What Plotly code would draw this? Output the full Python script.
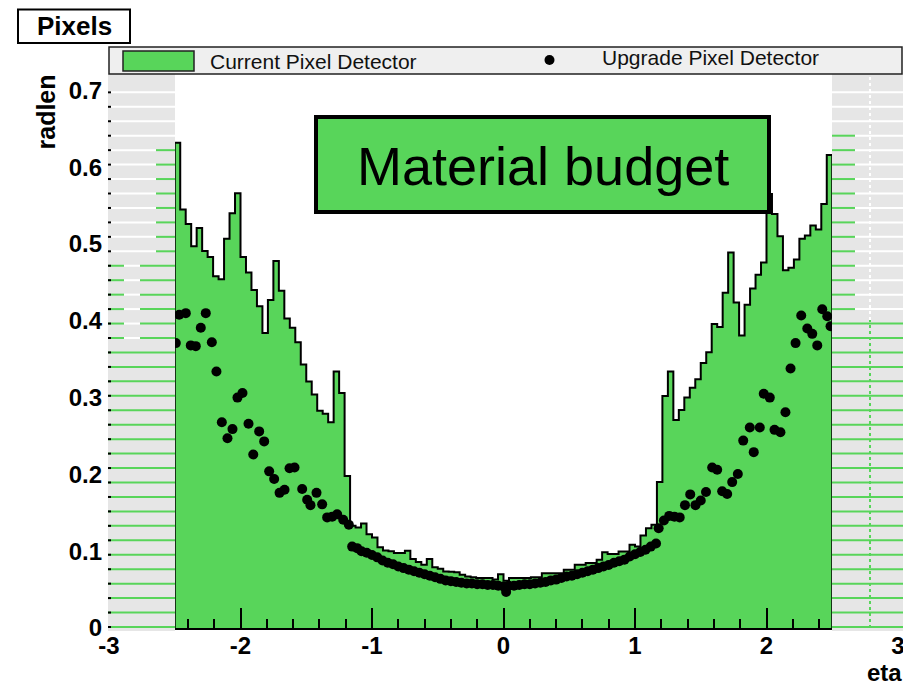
import numpy as np
import plotly.graph_objects as go

# ---------------- data ----------------
eta_min, eta_max, n_bins = -2.5, 2.5, 120
current_radlen = [
    0.632, 0.545, 0.526, 0.497, 0.521, 0.491, 0.483, 0.458, 0.454, 0.507,
    0.540, 0.566, 0.483, 0.463, 0.440, 0.419, 0.384, 0.427, 0.478, 0.439,
    0.403, 0.391, 0.372, 0.343, 0.321, 0.304, 0.283, 0.279, 0.268, 0.334,
    0.306, 0.198, 0.133, 0.131, 0.136, 0.122, 0.118, 0.105, 0.101, 0.100,
    0.0975, 0.0975, 0.1006, 0.090, 0.086, 0.0824, 0.090, 0.079, 0.077, 0.0737,
    0.0733, 0.0725, 0.0694, 0.067, 0.066, 0.065, 0.065, 0.065, 0.063, 0.070,
    0.0615, 0.065, 0.065, 0.065, 0.065, 0.066, 0.066, 0.0714, 0.0714, 0.0714,
    0.0714, 0.0759, 0.0759, 0.0824, 0.0824, 0.0845, 0.0845, 0.089, 0.0988, 0.0962,
    0.0962, 0.0997, 0.0997, 0.1085, 0.106, 0.1206, 0.130, 0.1345, 0.190, 0.302,
    0.334, 0.271, 0.284, 0.300, 0.313, 0.324, 0.345, 0.359, 0.396, 0.392,
    0.4365, 0.489, 0.424, 0.381, 0.421, 0.442, 0.460, 0.476, 0.565, 0.539,
    0.510, 0.466, 0.469, 0.480, 0.507, 0.511, 0.524, 0.519, 0.552, 0.616,
]

upgrade_eta = [
    -2.492, -2.466, -2.416, -2.378, -2.340, -2.302, -2.264, -2.218, -2.183, -2.142,
    -2.099, -2.061, -2.023, -1.985, -1.939, -1.903, -1.858, -1.820, -1.782, -1.744,
    -1.703, -1.665, -1.627, -1.589, -1.531, -1.493, -1.468, -1.422, -1.379, -1.341,
    -1.303, -1.265, -1.219, -1.176, -1.151, -1.113,
    -1.08, -1.04, -1.00, -0.96, -0.92, -0.88, -0.84, -0.80, -0.76, -0.72,
    -0.68, -0.64, -0.60, -0.56, -0.52, -0.48, -0.44, -0.40, -0.36, -0.32,
    -0.28, -0.24, -0.20, -0.16, -0.12, -0.08, -0.04, 0.00, 0.02, 0.04,
    0.08, 0.12, 0.16, 0.20, 0.24, 0.28, 0.32, 0.36, 0.40, 0.44,
    0.48, 0.52, 0.56, 0.60, 0.64, 0.68, 0.72, 0.76, 0.80, 0.84,
    0.88, 0.92, 0.96, 1.00, 1.04, 1.08, 1.12, 1.16,
    1.18, 1.22, 1.26, 1.30, 1.34, 1.38, 1.42, 1.46, 1.50, 1.540,
    1.587, 1.625, 1.663, 1.701, 1.739, 1.782, 1.823, 1.873, 1.903, 1.949,
    1.979, 2.025, 2.061, 2.106, 2.144, 2.183, 2.221, 2.264, 2.310, 2.348,
    2.386, 2.424, 2.462, 2.487,
]
upgrade_radlen = [
    0.371, 0.408, 0.410, 0.368, 0.367, 0.391, 0.410, 0.372, 0.334, 0.268,
    0.247, 0.259, 0.300, 0.306, 0.266, 0.226, 0.256, 0.243, 0.204, 0.194,
    0.176, 0.180, 0.208, 0.209, 0.181, 0.167, 0.160, 0.176, 0.161, 0.144,
    0.145, 0.148, 0.141, 0.1345, 0.106, 0.104,
    0.100, 0.098, 0.095, 0.092, 0.088, 0.085, 0.083, 0.080, 0.078, 0.076,
    0.074, 0.072, 0.070, 0.068, 0.066, 0.064, 0.062, 0.061, 0.060, 0.059,
    0.058, 0.058, 0.057, 0.057, 0.056, 0.056, 0.055, 0.054, 0.047, 0.055,
    0.055, 0.056, 0.057, 0.057, 0.058, 0.059, 0.060, 0.062, 0.063, 0.065,
    0.067, 0.068, 0.070, 0.072, 0.074, 0.076, 0.078, 0.080, 0.082, 0.085,
    0.087, 0.089, 0.093, 0.096, 0.099, 0.102, 0.106, 0.110,
    0.130, 0.140, 0.146, 0.145, 0.144, 0.160, 0.174, 0.160, 0.166, 0.177,
    0.209, 0.206, 0.178, 0.1745, 0.190, 0.2005, 0.244, 0.261, 0.229, 0.261,
    0.305, 0.300, 0.258, 0.255, 0.281, 0.338, 0.371, 0.407, 0.390, 0.383,
    0.368, 0.415, 0.406, 0.393,
]

x_tickvals = [-3, -2, -1, 0, 1, 2, 3]
x_ticktext = ["-3", "-2", "-1", "0", "1", "2", "3"]
y_tickvals = [0, 0.1, 0.2, 0.3, 0.4, 0.5, 0.6, 0.7]
y_ticktext = ["0", "0.1", "0.2", "0.3", "0.4", "0.5", "0.6", "0.7"]

# ---------------- style ----------------
# The page body keeps the browser's 8 px margin, so the figure is made
# 8 px smaller and all reference-pixel positions are offset accordingly.
PAGE_W, PAGE_H, BODY = 911, 686, 8
W, H = PAGE_W - BODY, PAGE_H - BODY
PLOT_X0, PLOT_X1, PLOT_Y0, PLOT_Y1 = 109, 898, 73, 628   # reference pixels
L, R = PLOT_X0 - BODY, PAGE_W - PLOT_X1
T, B = PLOT_Y0 - BODY, PAGE_H - PLOT_Y1
Y_MAX = 0.7227
GREEN = "#58d55a"
GREY = "#e6e6e6"
FONT = "Liberation Sans, Arial, sans-serif"


def px(xpix):
    return (xpix - PLOT_X0) / (PLOT_X1 - PLOT_X0)


def py(ypix):
    return (PLOT_Y1 - ypix) / (PLOT_Y1 - PLOT_Y0)


edges = np.linspace(eta_min, eta_max, n_bins + 1)
hist_x = [edges[0]] + list(edges[:-1]) + [edges[-1], edges[-1]]
hist_y = [0] + current_radlen + [current_radlen[-1], 0]

fig = go.Figure()
fig.add_trace(go.Scatter(
    x=hist_x, y=hist_y, mode="lines", line_shape="hv",
    line=dict(color="black", width=2), fill="tozeroy", fillcolor=GREEN,
    name="Current Pixel Detector", showlegend=False, hoverinfo="skip"))
fig.add_trace(go.Scatter(
    x=upgrade_eta, y=upgrade_radlen, mode="markers",
    marker=dict(color="black", size=10, line=dict(width=0)),
    name="Upgrade Pixel Detector", showlegend=False))

shapes = []
# grey striped side regions (artefact of the original picture)
for (xa, xb) in [(108, 175), (832, 903)]:
    shapes.append(dict(type="rect", xref="paper", yref="paper", layer="above",
                       x0=px(xa), x1=px(xb), y0=py(631), y1=py(73),
                       fillcolor=GREY, line=dict(width=0)))


def hline(xa, xb, yp, color, w=2):
    shapes.append(dict(type="line", xref="paper", yref="paper", layer="above",
                       x0=px(xa), x1=px(xb), y0=py(yp), y1=py(yp),
                       line=dict(color=color, width=w)))


for k in range(38):
    yp = 627 - 14.45 * k
    # left region
    if yp > 345:
        hline(108, 175, yp, GREEN)
    elif yp > 265:
        hline(108, 124, yp, GREEN)
        hline(124, 140, yp, "white")
        hline(140, 175, yp, GREEN)
    elif yp > 140:
        hline(108, 156, yp, "white")
        hline(156, 175, yp, GREEN)
    else:
        hline(108, 175, yp, "white")
    hline(108, 111, yp, "black")
    # right region
    if yp > 315:
        hline(832, 903, yp, GREEN)
    elif yp > 135:
        hline(832, 855, yp, GREEN)
        hline(855, 903, yp, "white")
    else:
        hline(832, 903, yp, "white")

shapes.append(dict(type="line", xref="paper", yref="paper", layer="above",
                   x0=px(870), x1=px(870), y0=py(628), y1=py(320),
                   line=dict(color=GREEN, width=2, dash="dot")))
shapes.append(dict(type="line", xref="paper", yref="paper", layer="above",
                   x0=px(870), x1=px(870), y0=py(320), y1=py(75),
                   line=dict(color="white", width=2, dash="dot")))

# legend box
shapes.append(dict(type="rect", xref="paper", yref="paper", layer="above",
                   x0=px(109), x1=px(902), y0=py(74), y1=py(47),
                   fillcolor="#efefef", line=dict(color="#222", width=1.5)))
shapes.append(dict(type="rect", xref="paper", yref="paper", layer="above",
                   x0=px(123), x1=px(194), y0=py(71), y1=py(51),
                   fillcolor=GREEN, line=dict(color="#222", width=1.5)))
shapes.append(dict(type="circle", xref="paper", yref="paper", layer="above",
                   x0=px(544.5), x1=px(554.5), y0=py(65), y1=py(55),
                   fillcolor="black", line=dict(width=0)))
# "Pixels" title box
shapes.append(dict(type="rect", xref="paper", yref="paper", layer="above",
                   x0=px(18), x1=px(130), y0=py(43), y1=py(9.5),
                   fillcolor="white", line=dict(color="black", width=2)))
# "Material budget" box
shapes.append(dict(type="rect", xref="paper", yref="paper", layer="above",
                   x0=px(316), x1=px(769), y0=py(212), y1=py(117),
                   fillcolor=GREEN, line=dict(color="black", width=4)))

annotations = [
    dict(text="Pixels", x=px(74), y=py(26), xref="paper", yref="paper",
         showarrow=False, xanchor="center", yanchor="middle",
         font=dict(family=FONT, size=26, color="black", weight="bold")),
    dict(text="Current Pixel Detector", x=px(208), y=py(61.5), xref="paper", yref="paper",
         showarrow=False, xanchor="left", yanchor="middle",
         font=dict(family=FONT, size=21, color="#111")),
    dict(text="Upgrade Pixel Detector", x=px(600), y=py(57.5), xref="paper", yref="paper",
         showarrow=False, xanchor="left", yanchor="middle",
         font=dict(family=FONT, size=21, color="#111")),
    dict(text="Material budget", x=px(542.5), y=py(166), xref="paper", yref="paper",
         showarrow=False, xanchor="center", yanchor="middle",
         font=dict(family=FONT, size=54, color="black")),
    dict(text="eta", x=px(904), y=py(672), xref="paper", yref="paper",
         showarrow=False, xanchor="right", yanchor="middle",
         font=dict(family=FONT, size=24, color="black", weight="bold")),
    dict(text="radlen", x=px(45), y=py(73), xref="paper", yref="paper",
         showarrow=False, xanchor="center", yanchor="top", textangle=-90,
         font=dict(family=FONT, size=25, color="black", weight="bold")),
]

fig.update_layout(
    width=W, height=H, autosize=False,
    margin=dict(l=L, r=R, t=T, b=B, pad=0, autoexpand=False),
    paper_bgcolor="white", plot_bgcolor="white",
    shapes=shapes, annotations=annotations, showlegend=False,
    xaxis=dict(range=[-3, 3], tickvals=x_tickvals, ticktext=x_ticktext,
               automargin=False,
               showgrid=False, zeroline=False, showline=True,
               linecolor="black", linewidth=2,
               ticks="inside", ticklen=20, tickwidth=2, tickcolor="black",
               minor=dict(dtick=0.2, ticks="inside", ticklen=9, tickwidth=1.5,
                          tickcolor="black", showgrid=False),
               ticklabelstandoff=-5,
               tickfont=dict(family=FONT, size=24, color="black", weight="bold")),
    yaxis=dict(range=[0, Y_MAX], tickvals=y_tickvals, ticktext=y_ticktext,
               automargin=False,
               showgrid=False, zeroline=False, showline=False, ticks="",
               ticklabelstandoff=6,
               tickfont=dict(family=FONT, size=24, color="black", weight="bold")),
)

fig.write_html("out.html")
